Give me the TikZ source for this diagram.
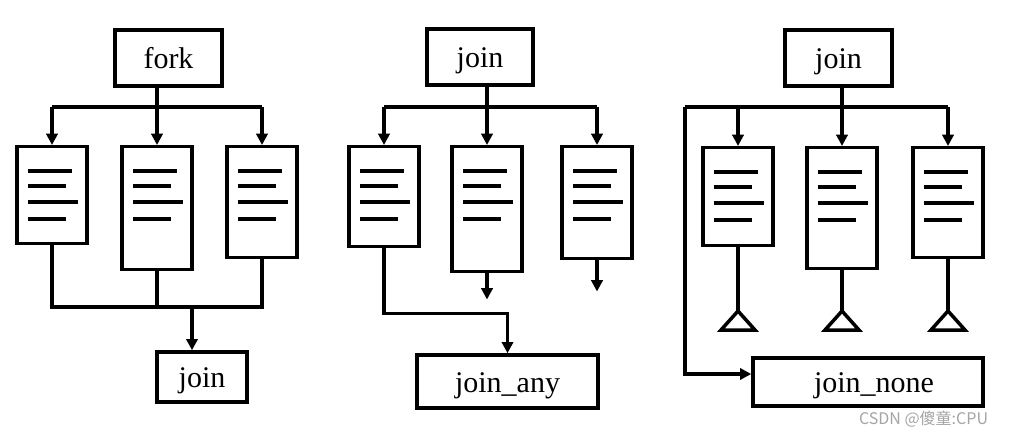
\documentclass[tikz,border=0pt]{standalone}
\usepackage{fontspec}
\setmainfont{Liberation Serif}
\newfontfamily\cjkfont{Noto Sans CJK SC}
\usetikzlibrary{arrows.meta,positioning}
\newlength\px
\setlength\px{0.025cm}
\tikzset{
	ctlbox/.style={draw, line width=3.5\px, minimum height=56\px, inner sep=0pt,
		text height=24\px, text depth=3\px, font=\fontsize{30\px}{30\px}\selectfont},
	procbox/.style={draw, line width=3.5\px, minimum width=70\px, anchor=north, inner sep=0pt},
	wire/.style={line width=3.5\px, line join=miter},
	flow/.style={wire, -{Triangle[width=8pt,length=8pt]}},
}
% four code lines inside a process box
\newcommand\codelines[1]{%
	\draw[wire] ([shift={(13,26)}]#1.north west) -- ++(44,0);
	\draw[wire] ([shift={(13,41)}]#1.north west) -- ++(38,0);
	\draw[wire] ([shift={(13,57)}]#1.north west) -- ++(50,0);
	\draw[wire] ([shift={(13,74)}]#1.north west) -- ++(38,0);
}
\begin{document}
\begin{tikzpicture}[x=1\px, y=-1\px]
	\fill[white] (0,0) rectangle (1010,438);
	\useasboundingbox (0,0) rectangle (1010,438);
	\definecolor{markgray}{RGB}{165, 165, 165}
	\coordinate (bus) at (0,107);
	% fork ... join
	\node[ctlbox, minimum width=107\px] (fork) at (168.5,58) {fork};
	\node[procbox, minimum height=97\px] (a1) at (52,145) {};
	\node[procbox, minimum height=123\px] (a2) at (157,145) {};
	\node[procbox, minimum height=111\px] (a3) at (262,145) {};
	\node[ctlbox, minimum width=90\px, minimum height=50\px] (j1) at (202,377) {join};
	\codelines{a1}
	\codelines{a2}
	\codelines{a3}
	\draw[wire] (a1.north |- bus) -- (a3.north |- bus);
	\draw[flow] (a2.north |- fork.south) -- (a2.north);
	\draw[flow] (a1.north |- bus) -- (a1.north);
	\draw[flow] (a3.north |- bus) -- (a3.north);
	\coordinate (low) at (0,307);
	\draw[wire] (a1.south) |- (a3.south |- low) -- (a3.south);
	\draw[wire] (a2.south) -- (a2.south |- low);
	\draw[flow] ([xshift=-10\px]j1.north |- low) -- ([xshift=-10\px]j1.north);
	% join ... join_any
	\node[ctlbox, minimum width=106\px] (jt) at (480,57) {join};
	\node[procbox, minimum height=100\px] (b1) at (384,145) {};
	\node[procbox, minimum height=125\px] (b2) at (487,145) {};
	\node[procbox, minimum height=112\px] (b3) at (597,145) {};
	\node[ctlbox, minimum width=181\px, minimum height=53\px] (ja) at (507.5,381.5) {join\_any};
	\codelines{b1}
	\codelines{b2}
	\codelines{b3}
	\draw[wire] (b1.north |- bus) -- (b3.north |- bus);
	\draw[flow] (b2.north |- jt.south) -- (b2.north);
	\draw[flow] (b1.north |- bus) -- (b1.north);
	\draw[flow] (b3.north |- bus) -- (b3.north);
	\draw[flow] (b2.south) -- ++(0,26);
	\draw[flow] (b3.south) -- ++(0,31);
	\draw[flow] (b1.south) -- ++(0,65) -| (ja.north);
	% join ... join_none
	\node[ctlbox, minimum width=107\px] (jn0) at (838.5,58) {join};
	\node[procbox, minimum height=98\px] (c1) at (738,146) {};
	\node[procbox, minimum height=121\px] (c2) at (842,146) {};
	\node[procbox, minimum height=110\px] (c3) at (948,146) {};
	\node[ctlbox, minimum width=230\px, minimum height=48\px] (jn) at (868,382) {\hspace{12\px}join\_none};
	\codelines{c1}
	\codelines{c2}
	\codelines{c3}
	\coordinate (lt) at (685,107);
	\draw[wire] (lt) -- (c3.north |- lt);
	\draw[flow] (c2.north |- jn0.south) -- (c2.north);
	\draw[flow] (c1.north |- bus) -- (c1.north);
	\draw[flow] (c3.north |- bus) -- (c3.north);
	\draw[flow] (lt) |- ([yshift=8\px]jn.west);
	\coordinate (tip) at (0,311);
	\foreach \c in {c1,c2,c3}{
		\draw[wire] (\c.south) -- (\c.south |- tip);
		\draw[wire] (\c.south |- tip) -- ++(-17,19) -- ++(34,0) -- cycle;
	}
	% watermark
	\node[anchor=east, text=markgray, font=\cjkfont\fontsize{16\px}{16\px}\selectfont] (mark) at (993,419) {CSDN @傻童:CPU};
\end{tikzpicture}
\end{document}
